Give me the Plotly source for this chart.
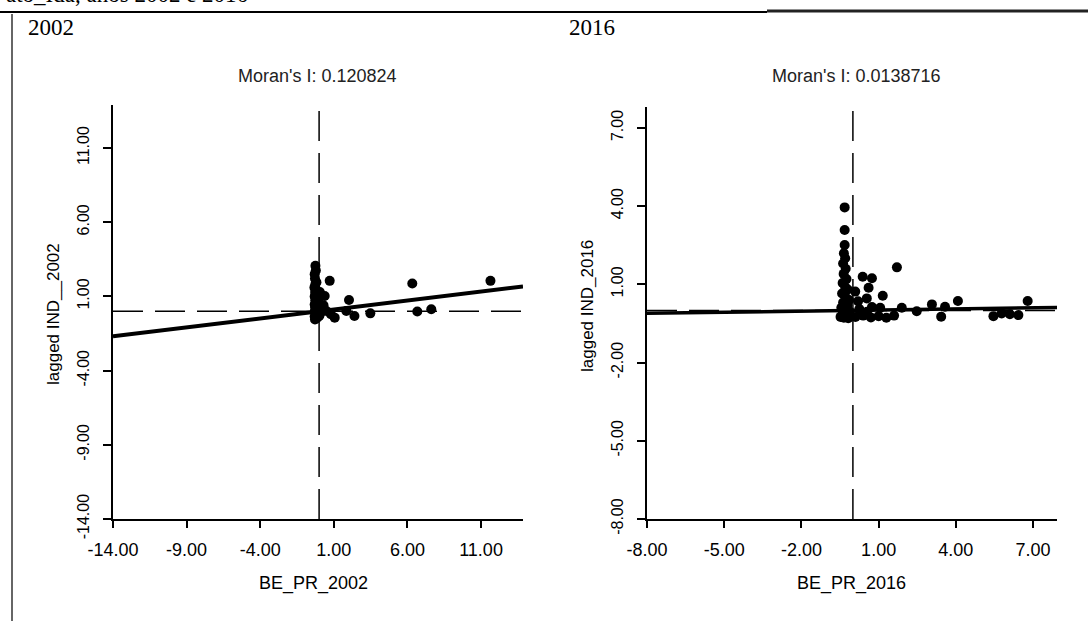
import plotly.graph_objects as go

W, H = 1088, 621

# ---------------- data ----------------
moran_2002 = 0.120824
moran_2016 = 0.0138716

be_pr_2002 = [-0.25, -0.22, -0.30, -0.18, -0.28, -0.26, -0.32, -0.20, -0.27, -0.24,
              -0.30, -0.18, -0.26, -0.22, -0.30, -0.15, -0.27, -0.20, -0.29, -0.12,
              -0.25, -0.18, -0.30, -0.10, -0.22, -0.28, 0.05, 0.00, 0.10, 0.02,
              0.72, 0.38, 0.50, 2.03, 1.85, 1.06, 2.40, 3.48, 6.33, 6.67,
              7.62, 11.64, 0.30, 0.80]
lag_ind_2002 = [3.06, 2.75, 2.50, 1.96, 2.20, 1.80, 1.60, 1.45, 1.30, 1.15,
                1.00, 0.90, 0.75, 0.60, 0.45, 0.35, 0.25, 0.10, 0.00, -0.05,
                -0.15, -0.25, -0.35, -0.42, -0.50, -0.55, 1.30, 0.55, -0.10, -0.30,
                2.05, 1.03, 0.02, 0.76, 0.02, -0.43, -0.32, -0.14, 1.87, -0.02,
                0.14, 2.05, 0.40, -0.20]

be_pr_2016 = [-0.32, -0.32, -0.32, -0.35, -0.30, -0.38, -0.28, -0.36, -0.25, -0.40,
              -0.30, -0.20, -0.42, -0.28, -0.15, -0.38, -0.22, -0.45, -0.30, -0.12,
              -0.40, -0.25, -0.48, -0.18, -0.35,
              1.71, 0.38, 0.74, 0.61, 1.16, 0.54, 0.09, 0.20, 3.07, 3.58,
              3.43, 4.08, 6.79, 2.48, 1.90, 5.46, 5.78, 6.10, 6.43, 0.74,
              1.06, 0.10, 0.40, 0.70, 1.00, 1.30, 1.60, 0.25, 0.55]
lag_ind_2016 = [3.95, 3.08, 2.51, 2.19, 2.00, 1.80, 1.60, 1.40, 1.20, 1.05,
                0.90, 0.80, 0.65, 0.50, 0.40, 0.30, 0.20, 0.10, 0.00, -0.05,
                -0.12, -0.18, -0.25, -0.30, -0.28,
                1.65, 1.29, 1.23, 0.87, 0.56, 0.46, 0.72, 0.35, 0.23, 0.14,
                -0.24, 0.36, 0.36, -0.03, 0.10, -0.22, -0.12, -0.15, -0.18, 0.13,
                0.10, -0.25, -0.20, -0.27, -0.22, -0.28, -0.20, 0.05, -0.05]

x_ticks_2002 = [-14, -9, -4, 1, 6, 11]
x_labels_2002 = ["-14.00", "-9.00", "-4.00", "1.00", "6.00", "11.00"]
y_ticks_2002 = [-14, -9, -4, 1, 6, 11]
y_labels_2002 = ["-14.00", "-9.00", "-4.00", "1.00", "6.00", "11.00"]
x_ticks_2016 = [-8, -5, -2, 1, 4, 7]
x_labels_2016 = ["-8.00", "-5.00", "-2.00", "1.00", "4.00", "7.00"]
y_ticks_2016 = [-8, -5, -2, 1, 4, 7]
y_labels_2016 = ["-8.00", "-5.00", "-2.00", "1.00", "4.00", "7.00"]

x_range_2002 = [-14, 13.85]
y_range_2002 = [-14, 13.9]
x_range_2016 = [-8, 7.93]
y_range_2016 = [-8, 7.8]

# ---------------- figure ----------------
def px_x(v):
    return v / W

def px_y(v):
    return 1 - v / H

FONT = "Arial, Liberation Sans, sans-serif"
SERIF = "Times New Roman, Liberation Serif, serif"

fig = go.Figure()

fig.add_trace(go.Scatter(
    x=x_range_2002, y=[moran_2002 * v for v in x_range_2002],
    mode="lines", line=dict(color="black", width=4),
    xaxis="x", yaxis="y", showlegend=False, hoverinfo="skip"))
fig.add_trace(go.Scatter(
    x=be_pr_2002, y=lag_ind_2002, mode="markers",
    marker=dict(color="black", size=10),
    xaxis="x", yaxis="y", showlegend=False))

fig.add_trace(go.Scatter(
    x=x_range_2016, y=[moran_2016 * v for v in x_range_2016],
    mode="lines", line=dict(color="black", width=3.5),
    xaxis="x2", yaxis="y2", showlegend=False, hoverinfo="skip"))
fig.add_trace(go.Scatter(
    x=be_pr_2016, y=lag_ind_2016, mode="markers",
    marker=dict(color="black", size=10),
    xaxis="x2", yaxis="y2", showlegend=False))

def xax(domain, rng, tv, tt, anchor):
    return dict(domain=domain, range=rng, anchor=anchor, tickvals=tv, ticktext=tt,
                showline=True, linewidth=2, linecolor="black", mirror=False,
                ticks="outside", ticklen=7, tickwidth=2, tickcolor="black",
                showgrid=False, zeroline=False, ticklabelstandoff=6, automargin=False,
                tickfont=dict(family=FONT, size=18, color="black"))

def yax(domain, rng, tv, tt, anchor):
    return dict(domain=domain, range=rng, anchor=anchor, tickvals=tv, ticktext=tt,
                showline=True, linewidth=2, linecolor="black", mirror=False,
                ticks="outside", ticklen=8, tickwidth=2, tickcolor="black",
                showgrid=False, zeroline=False, tickangle=-90, ticklabelstandoff=8,
                automargin=False,
                tickfont=dict(family=FONT, size=16, color="black"))

fig.update_layout(
    width=W, height=H, margin=dict(l=0, r=0, t=0, b=0, pad=0),
    paper_bgcolor="white", plot_bgcolor="white", showlegend=False,
    xaxis=xax([px_x(113), px_x(523)], x_range_2002, x_ticks_2002, x_labels_2002, "y"),
    yaxis=yax([px_y(519), px_y(105)], y_range_2002, y_ticks_2002, y_labels_2002, "x"),
    xaxis2=xax([px_x(647), px_x(1057)], x_range_2016, x_ticks_2016, x_labels_2016, "y2"),
    yaxis2=yax([px_y(519), px_y(107)], y_range_2016, y_ticks_2016, y_labels_2016, "x2"),
)

dash = "30px,12px"
shapes = [
    # dashed reference lines (2002)
    dict(type="line", xref="x", yref="y domain", x0=0, x1=0, y0=0, y1=1,
         line=dict(color="black", width=1.5, dash=dash)),
    dict(type="line", xref="x domain", yref="y", x0=0, x1=1, y0=0, y1=0,
         line=dict(color="black", width=1.5, dash=dash)),
    # dashed reference lines (2016)
    dict(type="line", xref="x2", yref="y2 domain", x0=0, x1=0, y0=0, y1=1,
         line=dict(color="black", width=1.5, dash=dash)),
    dict(type="line", xref="x2 domain", yref="y2", x0=0, x1=1, y0=0, y1=0,
         line=dict(color="black", width=1.5, dash=dash)),
    # page rules from the scanned document
    dict(type="line", xref="paper", yref="paper", x0=0, x1=px_x(767),
         y0=px_y(12), y1=px_y(12), line=dict(color="black", width=2)),
    dict(type="line", xref="paper", yref="paper", x0=px_x(767), x1=1,
         y0=px_y(11), y1=px_y(11), line=dict(color="#222", width=3)),
    dict(type="line", xref="paper", yref="paper", x0=px_x(12), x1=px_x(12),
         y0=px_y(14), y1=0, line=dict(color="#333", width=1.5)),
]
fig.update_layout(shapes=shapes)

def ann(text, x, y, size, family=FONT, angle=0, xanchor="center", yanchor="middle", color="black"):
    return dict(text=text, x=px_x(x), y=px_y(y), xref="paper", yref="paper",
                showarrow=False, textangle=angle, xanchor=xanchor, yanchor=yanchor,
                font=dict(family=family, size=size, color=color))

annotations = [
    ann("ato_Ida, anos 2002 e 2016", 250, 9, 23, family=SERIF, xanchor="right", yanchor="bottom"),
    ann("2002", 26, 28, 23, family=SERIF, xanchor="left"),
    ann("2016", 567, 28, 23, family=SERIF, xanchor="left"),
    ann("Moran's I: 0.120824", 317, 76, 18, color="#222"),
    ann("Moran's I: 0.0138716", 856, 76, 18, color="#222"),
    ann("lagged IND__2002", 53, 314, 17, angle=-90),
    ann("lagged IND_2016", 587, 306, 17, angle=-90),
    ann("BE_PR_2002", 313, 583, 18),
    ann("BE_PR_2016", 851, 583, 18),
]
fig.update_layout(annotations=annotations)

fig.write_html("out.html",
               config={"displayModeBar": False},
               post_script="document.body.style.margin='0px';document.body.style.overflow='hidden';")
